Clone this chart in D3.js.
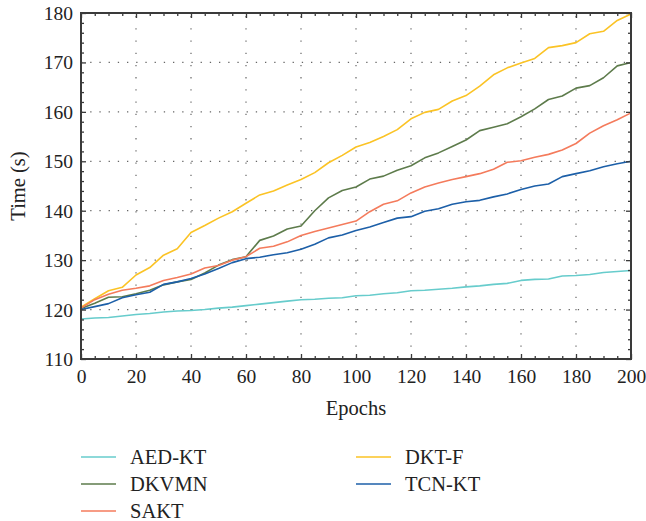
<!DOCTYPE html>
<html><head><meta charset="utf-8">
<script src="https://cdn.jsdelivr.net/npm/d3@7"></script>
<style>body{margin:0;background:#fff}svg{display:block}</style>
</head><body>
<svg id="chart" width="646" height="521"></svg>
<script>
const epochs = d3.range(0, 201, 5);
const seriesNames = ["AED-KT", "DKVMN", "SAKT", "DKT-F", "TCN-KT"];
const seriesColors = ["#67cccc", "#5d7b4b", "#f47b5c", "#fbc325", "#1c5fa8"];
const aedkt = [118.1,118.3,118.4,118.7,119,119.2,119.5,119.7,119.8,120.0,120.3,120.5,120.8,121.1,121.4,121.7,122,122.1,122.3,122.4,122.8,122.9,123.2,123.4,123.8,123.9,124.1,124.3,124.6,124.8,125.1,125.3,125.9,126.1,126.2,126.8,126.9,127.1,127.5,127.7,127.9];
const dkvmn = [120.2,121.3,122.5,122.6,123.2,123.9,125,125.6,126.1,127.4,129,130.1,130.7,134,134.9,136.3,136.9,140,142.6,144.1,144.8,146.4,147,148.2,149.1,150.7,151.7,153,154.3,156.2,156.9,157.6,159,160.6,162.5,163.2,164.8,165.3,166.9,169.3,170];
const sakt = [120.3,122,123.1,123.9,124.3,124.8,125.9,126.5,127.2,128.4,128.9,130,130.7,132.4,132.8,133.7,135,135.8,136.5,137.2,137.9,139.8,141.3,142,143.6,144.8,145.6,146.3,146.9,147.5,148.4,149.8,150.1,150.8,151.4,152.3,153.6,155.7,157.2,158.4,159.8];
const dktf = [120.5,122.2,123.8,124.5,127,128.5,131,132.3,135.6,137,138.5,139.8,141.5,143.2,144,145.2,146.3,147.7,149.7,151.2,152.9,153.8,155,156.4,158.6,159.9,160.5,162.2,163.3,165.2,167.5,168.9,169.9,170.8,173,173.4,174,175.8,176.3,178.5,179.8];
const tcnkt = [120,120.6,121.2,122.4,123,123.5,125.1,125.6,126.3,127.2,128.3,129.5,130.3,130.6,131.1,131.5,132.2,133.2,134.5,135.1,136,136.7,137.6,138.5,138.8,139.9,140.4,141.3,141.8,142.1,142.8,143.4,144.3,145,145.4,146.9,147.5,148.1,148.9,149.5,150];
const xTicks = [0,20,40,60,80,100,120,140,160,180,200];
const yTicks = [110,120,130,140,150,160,170,180];
const xLabel = "Epochs";
const yLabel = "Time (s)";

const svg = d3.select("#chart");
const L = 81, R = 631, T = 13, B = 359;
const x = d3.scaleLinear().domain([0, 200]).range([L, R]);
const y = d3.scaleLinear().domain([110, 180]).range([B, T]);
const font = "'Liberation Serif', 'DejaVu Serif', serif";
const ink = "#3a3a3a";

// grid
const g = svg.append("g");
g.selectAll(".hg").data(yTicks.slice(1, -1)).enter().append("line")
  .attr("x1", L).attr("x2", R).attr("y1", d => y(d)).attr("y2", d => y(d))
  .attr("stroke", "#666").attr("stroke-width", 1.2).attr("stroke-dasharray", "1.3,7.9");
g.selectAll(".vg").data(xTicks.slice(1, -1)).enter().append("line")
  .attr("y1", B).attr("y2", T).attr("x1", d => x(d)).attr("x2", d => x(d))
  .attr("stroke", "#666").attr("stroke-width", 1.2).attr("stroke-dasharray", "1.3,10.9");

// lines
const allSeries = [aedkt, dkvmn, sakt, dktf, tcnkt];
const line = d3.line().x((d, i) => x(epochs[i])).y(d => y(d));
const drawOrder = [0, 3, 1, 2, 4];
drawOrder.forEach(k => {
  svg.append("path").datum(allSeries[k]).attr("d", line)
    .attr("fill", "none").attr("stroke", seriesColors[k]).attr("stroke-width", 1.6)
    .attr("stroke-linejoin", "round");
});

// axes with inward ticks
function styleAxis(sel) {
  sel.select(".domain").remove();
  sel.selectAll("line").attr("stroke", ink).attr("stroke-width", 1.3);
  sel.selectAll("text").attr("fill", "#222").attr("font-family", font).attr("font-size", 19.5);
}
const xMinor = d3.range(0, 201, 5).filter(v => v % 20 !== 0);
const yMinor = d3.range(110, 181, 2).filter(v => v % 10 !== 0);

svg.append("g").attr("transform", `translate(0,${B})`)
  .call(d3.axisBottom(x).tickValues(xMinor).tickSize(-3).tickFormat("")).call(styleAxis);
svg.append("g").attr("transform", `translate(0,${T})`)
  .call(d3.axisTop(x).tickValues(xMinor).tickSize(-3).tickFormat("")).call(styleAxis);
svg.append("g").attr("transform", `translate(${L},0)`)
  .call(d3.axisLeft(y).tickValues(yMinor).tickSize(-3).tickFormat("")).call(styleAxis);
svg.append("g").attr("transform", `translate(${R},0)`)
  .call(d3.axisRight(y).tickValues(yMinor).tickSize(-3).tickFormat("")).call(styleAxis);

const xa = svg.append("g").attr("transform", `translate(0,${B})`)
  .call(d3.axisBottom(x).tickValues(xTicks).tickSize(-5).tickPadding(12)).call(styleAxis);
xa.selectAll("text").attr("y", 23.5).attr("dy", 0);
svg.append("g").attr("transform", `translate(0,${T})`)
  .call(d3.axisTop(x).tickValues(xTicks).tickSize(-5).tickFormat("")).call(styleAxis);
const ya = svg.append("g").attr("transform", `translate(${L},0)`)
  .call(d3.axisLeft(y).tickValues(yTicks).tickSize(-5).tickPadding(8)).call(styleAxis);
ya.selectAll("text").attr("dy", "0.33em");
svg.append("g").attr("transform", `translate(${R},0)`)
  .call(d3.axisRight(y).tickValues(yTicks).tickSize(-5).tickFormat("")).call(styleAxis);

// frame
svg.append("rect").attr("x", L).attr("y", T).attr("width", R - L).attr("height", B - T)
  .attr("fill", "none").attr("stroke", ink).attr("stroke-width", 2);

// axis titles
svg.append("text").attr("x", (L + R) / 2).attr("y", 415).attr("text-anchor", "middle")
  .attr("font-family", font).attr("font-size", 20.5).attr("fill", "#222").text(xLabel);
svg.append("text").attr("transform", `translate(25,${(T + B) / 2}) rotate(-90)`)
  .attr("text-anchor", "middle").attr("font-family", font).attr("font-size", 20.5)
  .attr("fill", "#222").text(yLabel);

// legend
const legendPos = [[81, 457], [81, 484], [81, 511], [356, 457], [356, 484]];
const legendOrder = [0, 1, 2, 3, 4];
legendOrder.forEach((k, i) => {
  const [lx, ly] = legendPos[i];
  svg.append("line").attr("x1", lx).attr("x2", lx + 35).attr("y1", ly).attr("y2", ly)
    .attr("stroke", seriesColors[k]).attr("stroke-width", 1.6);
  svg.append("text").attr("x", lx + 49).attr("y", ly + 7)
    .attr("font-family", font).attr("font-size", 20.5).attr("fill", "#222").text(seriesNames[k]);
});
</script>
</body></html>
